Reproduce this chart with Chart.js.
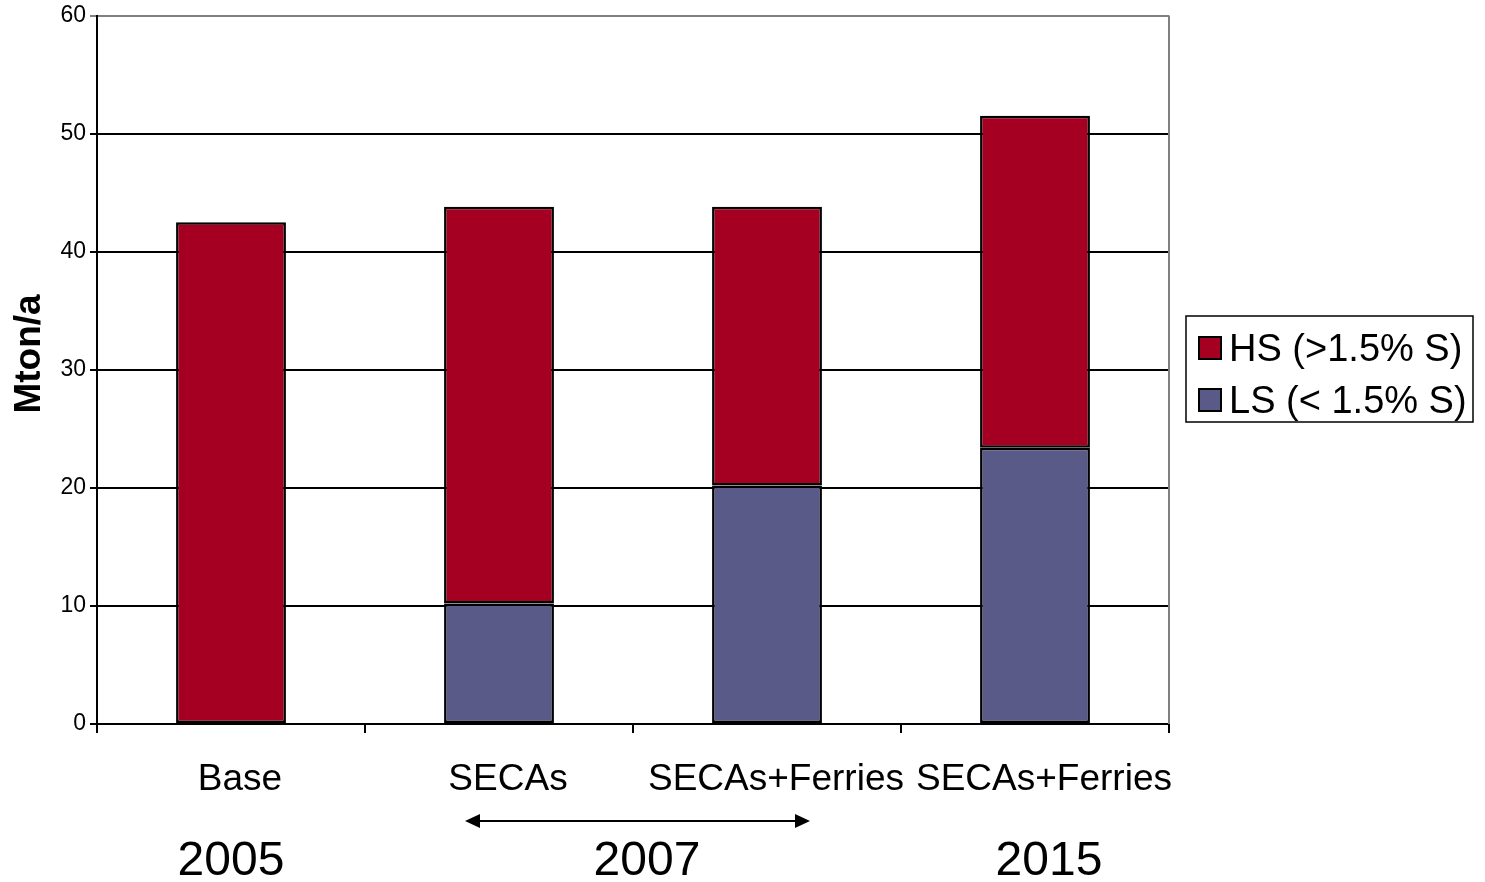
<!DOCTYPE html>
<html>
<head>
<meta charset="utf-8">
<script src="https://cdn.jsdelivr.net/npm/chart.js@4.4.0/dist/chart.umd.min.js"></script>
<style>
  html, body { margin: 0; padding: 0; background: #fff; }
  #wrap { width: 1485px; height: 882px; position: relative; }
</style>
</head>
<body>
<div id="wrap"><canvas id="myChart" width="1485" height="882"></canvas></div>
<script>
var categories = ["Base", "SECAs", "SECAs+Ferries", "SECAs+Ferries"];
var hsValues = [42.5, 33.6, 23.6, 28.1];
var lsValues = [null, 10.2, 20.2, 23.4];
var years = ["2005", "2007", "2015"];
// which categories each year label sits under (first, last index)
var yearSpans = [[0, 0], [1, 2], [3, 3]];
var yTicks = [0, 10, 20, 30, 40, 50, 60];
var yTitle = "Mton/a";

var FONT = "'Liberation Sans', Arial, sans-serif";
var HS_COLOR = "#A50021";
var LS_COLOR = "#5A5A88";

var extras = {
    id: "extras",
    afterDraw: function(chart) {
        var ctx = chart.ctx;
        var area = chart.chartArea;
        var x = chart.scales.x;
        ctx.save();

        // right border of plot
        ctx.strokeStyle = "#808080";
        ctx.lineWidth = 2;
        ctx.beginPath();
        ctx.moveTo(area.right, area.top);
        ctx.lineTo(area.right, area.bottom);
        ctx.stroke();

        // y axis title
        ctx.fillStyle = "#000";
        ctx.font = "bold 37px " + FONT;
        ctx.textAlign = "center";
        ctx.textBaseline = "middle";
        ctx.save();
        ctx.translate(30, 354);
        ctx.rotate(-Math.PI / 2);
        ctx.fillText(yTitle, 0, 0);
        ctx.restore();

        // year labels
        ctx.font = "48px " + FONT;
        yearSpans.forEach(function(span, i) {
            var cx = (x.getPixelForValue(span[0]) + x.getPixelForValue(span[1])) / 2;
            if (i > 0) cx += 14;
            ctx.fillText(years[i], cx, 862);
        });

        // double arrow under the 2007 group
        var ax1 = x.getPixelForValue(1) - 34, ax2 = x.getPixelForValue(2) + 43, ay = 821;
        ctx.strokeStyle = "#000";
        ctx.lineWidth = 2;
        ctx.beginPath();
        ctx.moveTo(ax1 + 10, ay);
        ctx.lineTo(ax2 - 10, ay);
        ctx.stroke();
        ctx.beginPath();
        ctx.moveTo(ax1, ay); ctx.lineTo(ax1 + 15, ay - 7); ctx.lineTo(ax1 + 15, ay + 7); ctx.closePath();
        ctx.fill();
        ctx.beginPath();
        ctx.moveTo(ax2, ay); ctx.lineTo(ax2 - 15, ay - 7); ctx.lineTo(ax2 - 15, ay + 7); ctx.closePath();
        ctx.fill();

        // legend
        var lx = 1186, ly = 316, lw = 287, lh = 106;
        ctx.fillStyle = "#fff";
        ctx.fillRect(lx, ly, lw, lh);
        ctx.strokeStyle = "#000";
        ctx.lineWidth = 1.5;
        ctx.strokeRect(lx, ly, lw, lh);
        var items = [chart.data.datasets[1], chart.data.datasets[0]];
        ctx.font = "38px " + FONT;
        ctx.textAlign = "left";
        items.forEach(function(ds, i) {
            var rowY = ly + 32 + i * 52;
            ctx.fillStyle = ds.backgroundColor;
            ctx.fillRect(lx + 13, rowY - 11, 22, 22);
            ctx.strokeStyle = "#000";
            ctx.lineWidth = 2;
            ctx.strokeRect(lx + 13, rowY - 11, 22, 22);
            ctx.fillStyle = "#000";
            ctx.fillText(ds.label, lx + 43, rowY + 3);
        });
        ctx.restore();
    }
};

var ctx = document.getElementById("myChart").getContext("2d");
var myChart = new Chart(ctx, {
    type: "bar",
    data: {
        labels: categories,
        datasets: [
            {
                label: "LS (< 1.5% S)",
                data: lsValues,
                backgroundColor: LS_COLOR,
                borderColor: "#000",
                borderWidth: 2.5,
                borderSkipped: false,
                barPercentage: 0.41,
                categoryPercentage: 1
            },
            {
                label: "HS (>1.5% S)",
                data: hsValues,
                backgroundColor: HS_COLOR,
                borderColor: "#000",
                borderWidth: 2.5,
                borderSkipped: false,
                barPercentage: 0.41,
                categoryPercentage: 1
            }
        ]
    },
    options: {
        responsive: false,
        animation: false,
        layout: { padding: { left: 0, right: 316, top: 15, bottom: 0 } },
        plugins: {
            legend: { display: false },
            tooltip: { enabled: false }
        },
        scales: {
            x: {
                stacked: true,
                afterFit: function(s) { s.height = 158; },
                grid: {
                    drawOnChartArea: false,
                    drawTicks: true,
                    tickLength: 9,
                    color: "#000",
                    lineWidth: 2,
                    offset: true
                },
                border: { color: "#000", width: 2 },
                ticks: {
                    color: "#000",
                    font: { family: FONT, size: 37 },
                    padding: 25,
                    labelOffset: 9,
                    maxRotation: 0,
                    autoSkip: false
                }
            },
            y: {
                stacked: true,
                min: 0,
                max: 60,
                afterFit: function(s) { s.width = 97; },
                afterBuildTicks: function(s) {
                    s.ticks = yTicks.map(function(v) { return { value: v }; });
                },
                grid: {
                    color: function(c) { return c.tick && c.tick.value === 60 ? "#808080" : "#000"; },
                    lineWidth: 2,
                    tickLength: 7
                },
                border: { color: "#000", width: 2 },
                ticks: {
                    color: "#000",
                    font: { family: FONT, size: 23, lineHeight: 1 },
                    padding: 4
                }
            }
        }
    },
    plugins: [extras]
});
</script>
</body>
</html>
